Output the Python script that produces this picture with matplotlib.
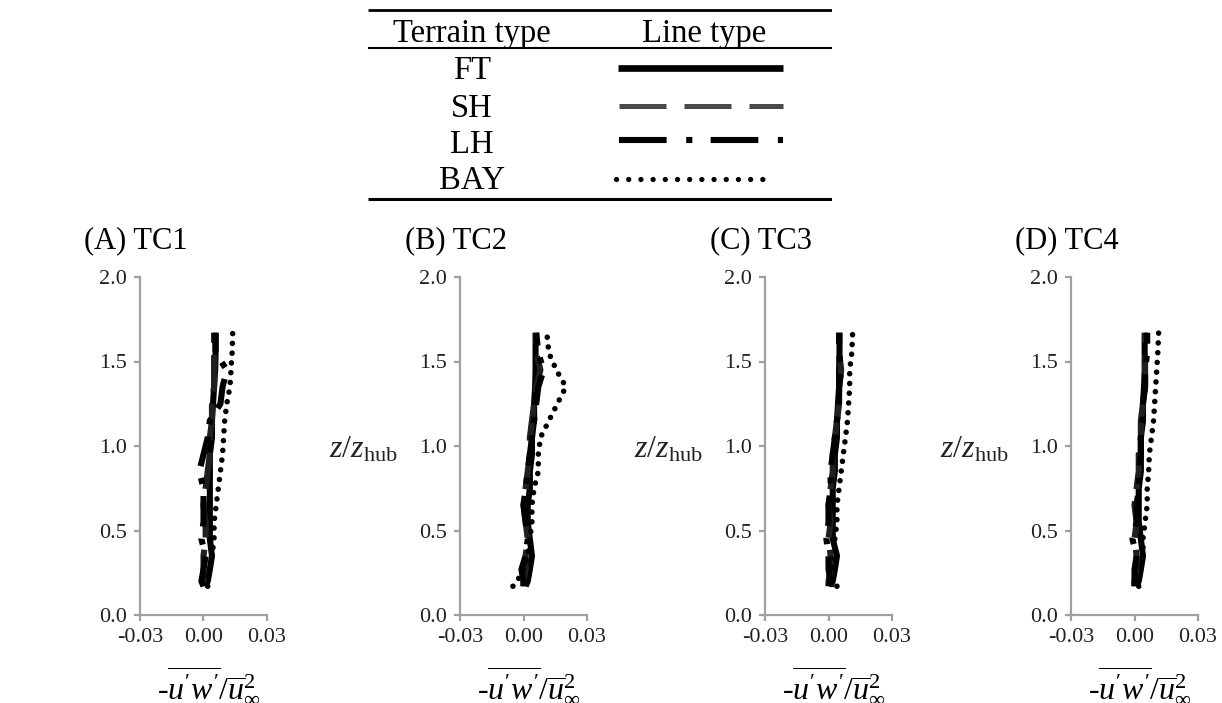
import matplotlib
matplotlib.use('Agg')
import matplotlib.pyplot as plt

plt.rcParams['font.family'] = ['Liberation Serif', 'DejaVu Serif']
plt.rcParams['mathtext.fontset'] = 'custom'
plt.rcParams['mathtext.rm'] = 'Liberation Serif'
plt.rcParams['mathtext.it'] = 'Liberation Serif:italic'
plt.rcParams['mathtext.fallback'] = 'cm'

# heights z/z_hub shared by all profiles
Z = [0.17, 0.20, 0.27, 0.35, 0.45, 0.55, 0.65, 0.75, 0.85, 0.95, 1.05, 1.15, 1.25, 1.35, 1.45, 1.55, 1.67]

terrains = ['FT', 'SH', 'LH', 'BAY']
panel_titles = ['(A) TC1', '(B) TC2', '(C) TC3', '(D) TC4']

# -u'w'/u_inf^2 for each terrain, per test case
FT_TC1 = [0.001, 0.002, 0.003, 0.004, 0.003, 0.003, 0.003, 0.003, 0.003, 0.003, 0.004, 0.004, 0.0045, 0.005, 0.0055, 0.0057, 0.0057]
SH_TC1 = [0.000, 0.000, 0.000, 0.000, 0.001, 0.001, 0.000, 0.001, 0.002, 0.003, 0.003, 0.004, 0.004, 0.005, 0.005, 0.005, 0.005]
LH_TC1 = [0.000, -0.001, 0.000, 0.001, -0.001, 0.000, 0.000, 0.000, -0.002, 0.000, 0.002, 0.003, 0.008, 0.009, 0.011, 0.0057, 0.0057]
BAY_TC1 = [0.002, 0.002, 0.003, 0.004, 0.005, 0.005, 0.006, 0.007, 0.008, 0.009, 0.0095, 0.010, 0.011, 0.0125, 0.013, 0.0135, 0.0138]

FT_TC2 = [0.001, 0.002, 0.003, 0.004, 0.003, 0.002, 0.002, 0.003, 0.003, 0.004, 0.004, 0.005, 0.005, 0.0055, 0.0057, 0.0057, 0.0057]
SH_TC2 = [0.000, 0.000, 0.001, 0.001, 0.002, 0.001, 0.000, 0.001, 0.002, 0.003, 0.003, 0.004, 0.005, 0.006, 0.008, 0.006, 0.006]
LH_TC2 = [0.000, 0.000, -0.001, 0.001, 0.002, 0.001, 0.000, 0.001, 0.002, 0.003, 0.004, 0.005, 0.006, 0.007, 0.0095, 0.007, 0.006]
BAY_TC2 = [-0.005, -0.003, 0.000, 0.002, 0.003, 0.004, 0.004, 0.005, 0.007, 0.007, 0.008, 0.012, 0.016, 0.020, 0.0155, 0.012, 0.011]

FT_TC3 = [0.001, 0.002, 0.003, 0.004, 0.002, 0.002, 0.002, 0.002, 0.003, 0.003, 0.004, 0.004, 0.0045, 0.005, 0.005, 0.0052, 0.0052]
SH_TC3 = [0.000, 0.000, 0.001, 0.001, 0.000, 0.001, 0.000, 0.001, 0.002, 0.002, 0.003, 0.004, 0.005, 0.005, 0.006, 0.005, 0.005]
LH_TC3 = [0.000, 0.001, 0.000, 0.000, -0.001, 0.000, 0.000, 0.001, 0.001, 0.002, 0.003, 0.004, 0.005, 0.005, 0.006, 0.005, 0.005]
BAY_TC3 = [0.004, 0.002, 0.002, 0.003, 0.003, 0.004, 0.004, 0.005, 0.006, 0.007, 0.008, 0.009, 0.0095, 0.010, 0.010, 0.011, 0.0114]

FT_TC4 = [0.001, 0.002, 0.003, 0.004, 0.003, 0.002, 0.002, 0.002, 0.003, 0.003, 0.003, 0.004, 0.004, 0.0045, 0.0048, 0.0048, 0.0048]
SH_TC4 = [0.000, 0.000, 0.001, 0.001, 0.000, 0.001, 0.000, 0.001, 0.002, 0.002, 0.003, 0.003, 0.004, 0.005, 0.005, 0.005, 0.005]
LH_TC4 = [0.000, 0.000, 0.000, 0.001, -0.001, 0.001, 0.001, 0.002, 0.002, 0.003, 0.003, 0.004, 0.004, 0.005, 0.005, 0.006, 0.006]
BAY_TC4 = [0.002, 0.002, 0.003, 0.004, 0.004, 0.005, 0.006, 0.006, 0.0067, 0.007, 0.008, 0.009, 0.0095, 0.010, 0.0105, 0.011, 0.0114]

profiles = [
    [FT_TC1, SH_TC1, LH_TC1, BAY_TC1],
    [FT_TC2, SH_TC2, LH_TC2, BAY_TC2],
    [FT_TC3, SH_TC3, LH_TC3, BAY_TC3],
    [FT_TC4, SH_TC4, LH_TC4, BAY_TC4],
]

x_ticks = [-0.03, 0.0, 0.03]
x_tick_labels = ['-0.03', '0.00', '0.03']
y_ticks = [0.0, 0.5, 1.0, 1.5, 2.0]

# line styles per terrain
styles = {
    'FT':  dict(color='black', linestyle='-', solid_capstyle='butt'),
    'SH':  dict(color='#4a4a4a', linestyle=(0, (9.4, 3.6)), dash_capstyle='butt'),
    'LH':  dict(color='black', linestyle=(0, (7.8, 3.2, 1.0, 3.0)), dash_capstyle='butt'),
    'BAY': dict(color='black', linestyle=(0, (0.01, 2.3)), dash_capstyle='round'),
}
plot_styles = {
    'FT':  dict(color='black', linestyle='-', lw=4.4, solid_capstyle='butt'),
    'SH':  dict(color='#202020', linestyle=(0, (6, 2)), lw=4.4, dash_capstyle='butt'),
    'LH':  dict(color='black', linestyle=(0, (5, 2, 1, 2)), lw=4.4, dash_capstyle='butt'),
    'BAY': dict(color='black', linestyle=(0, (0.01, 1.75)), lw=4.0, dash_capstyle='round'),
}
legend_lw = {'FT': 4.8, 'SH': 3.6, 'LH': 4.4, 'BAY': 3.8}

W, H = 1222, 703
fig = plt.figure(figsize=(W / 100, H / 100), dpi=100)

spine_color = '#a0a0a0'
axis_left = [140, 460, 765, 1071]
ax_w, ax_bottom, ax_top = 127, 615, 277

for i, left in enumerate(axis_left):
    ax = fig.add_axes([left / W, (H - ax_bottom) / H, ax_w / W, (ax_bottom - ax_top) / H])
    for name, xs in zip(terrains, profiles[i]):
        ax.plot(xs, Z, **plot_styles[name])
    ax.set_xlim(-0.03, 0.03)
    ax.set_ylim(0, 2.0)
    ax.set_xticks(x_ticks)
    ax.set_xticklabels(x_tick_labels)
    ax.set_yticks(y_ticks)
    ax.set_yticklabels(['%.1f' % v for v in y_ticks])
    for s in ['top', 'right']:
        ax.spines[s].set_visible(False)
    for s in ['left', 'bottom']:
        ax.spines[s].set_color(spine_color)
        ax.spines[s].set_linewidth(1.6)
    ax.tick_params(direction='out', length=4.5, width=1.6, color=spine_color,
                   labelsize=16, labelcolor='#222222', pad=5)
    ax.patch.set_visible(False)
    ax.set_title(panel_titles[i], fontsize=22, loc='center', x=-0.03, y=1.085, pad=0)
    ax.annotate(r"-$\overline{u^{\prime}w^{\prime}}/\overline{u}_{\infty}^{2}$",
                xy=(0.0, 0), xycoords=('data', 'axes fraction'),
                xytext=(4, -50), textcoords='offset points',
                ha='center', va='center', fontsize=23)
    if i > 0:
        ax.annotate(r"$z/z_{\mathrm{hub}}$", xy=(0, 1.0), xycoords=('axes fraction', 'data'),
                    xytext=(-45, -3), textcoords='offset points',
                    ha='right', va='center', fontsize=23, color='#222222')

# legend table at the top, drawn in pixel coordinates
tx0, tx1, ty1 = 368, 832, 201
tab = fig.add_axes([tx0 / W, (H - ty1) / H, (tx1 - tx0) / W, ty1 / H])
tab.set_xlim(tx0, tx1)
tab.set_ylim(ty1, 0)
tab.axis('off')
tab.plot([tx0, tx1], [10, 10], color='black', lw=2.0, solid_capstyle='butt')
tab.plot([tx0, tx1], [48, 48], color='black', lw=1.5, solid_capstyle='butt')
tab.plot([tx0, tx1], [199, 199], color='black', lw=2.2, solid_capstyle='butt')
tab.text(472, 42, 'Terrain type', ha='center', va='baseline', fontsize=23.5)
tab.text(704, 42, 'Line type', ha='center', va='baseline', fontsize=23.5)

row_y = [68, 106, 140, 179]
row_base = [79, 117, 153, 189]
sample_x = {'FT': (618, 783), 'SH': (619, 783), 'LH': (619, 783), 'BAY': (616, 774)}
for name, yc, yb in zip(terrains, row_y, row_base):
    tab.text(472, yb, name, ha='center', va='baseline', fontsize=23.5)
    x0, x1 = sample_x[name]
    tab.plot([x0, x1], [yc, yc], lw=legend_lw[name], **styles[name])

fig.savefig('out.png', dpi=100)
